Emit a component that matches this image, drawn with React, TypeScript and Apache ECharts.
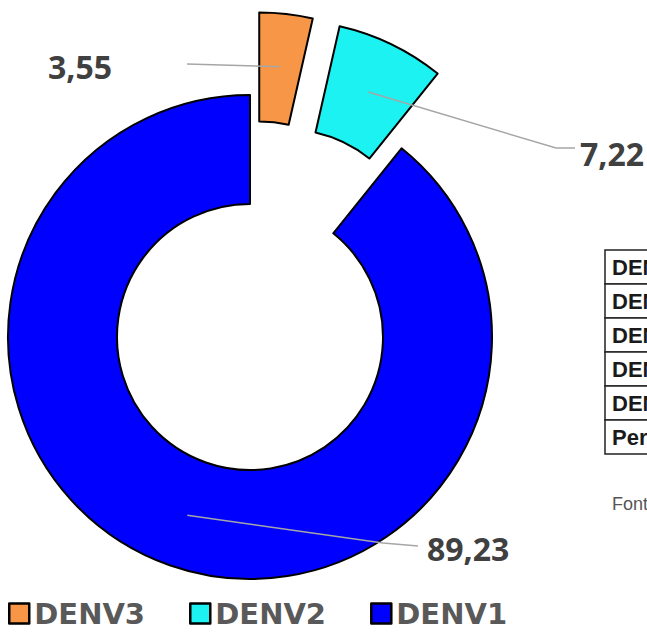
import React, { useEffect, useRef } from 'react';
import * as echarts from 'echarts';

// ---- data ----
const categories = ['DENV3', 'DENV2', 'DENV1'];
const values = [3.55, 7.22, 89.23];
const valueLabels = ['3,55', '7,22', '89,23'];
const exploded = [true, true, false];
const tableRows = ['DENV1', 'DENV2', 'DENV3', 'DENV4', 'DENV1-4', 'Percentual'];
const footnote = 'Fonte: SINAN';

// ---- styles / layout ----
const colors = ['#F79646', '#1CF2F2', '#0000FF'];
const CX = 250;
const CY = 337;
const R_OUT = 242;
const R_IN = 133;
const OFFSET = 83;
const R_LINE = 189;
const labelPlace = [
  { x: 112, y: 66, align: 'right', line: [[75, -2]] },
  { x: 580, y: 153, align: 'left', line: [[-24, -5], [-5, -5]] },
  { x: 427, y: 548, align: 'left', line: [[-44, -5], [-9, -2]] },
];

function App() {
  const ref = useRef<HTMLDivElement>(null);
  useEffect(() => {
    document.body.style.margin = '0';
    const chart = echarts.init(ref.current!, null, { renderer: 'svg' });
    const total = values.reduce((a, b) => a + b, 0);
    let cum = 0;
    const midAngles = values.map((v) => {
      const m = ((cum + v / 2) / total) * Math.PI * 2;
      cum += v;
      return m;
    });
    const linePoints = values.map((_, i) => {
      const th = midAngles[i];
      const d = (exploded[i] ? OFFSET : 0) + R_LINE;
      const start = [CX + d * Math.sin(th), CY - d * Math.cos(th)];
      const L = labelPlace[i];
      return [start, ...L.line.map((p) => [L.x + p[0], L.y + p[1]])];
    });

    const rowH = 34;
    const tableTop = 250;
    const tableLeft = 605;
    const tableChildren: any[] = [];
    tableRows.forEach((t, i) => {
      tableChildren.push({
        type: 'rect',
        shape: { x: tableLeft, y: tableTop + i * rowH, width: 120, height: rowH },
        style: { fill: '#fff', stroke: '#222', lineWidth: 1.5 },
      });
      tableChildren.push({
        type: 'text',
        x: tableLeft + 7,
        y: tableTop + i * rowH + rowH / 2,
        style: {
          text: t,
          font: 'bold 22px "Liberation Sans"',
          fill: '#1a1a1a',
          verticalAlign: 'middle',
        },
      });
    });

    const pieData = categories.map((name, i) => ({
      name,
      value: values[i],
      selected: exploded[i],
      itemStyle: { color: colors[i] },
    }));

    chart.setOption({
      animation: false,
      backgroundColor: '#fff',
      legend: {
        data: categories,
        left: 3,
        top: 594,
        icon: 'rect',
        itemWidth: 20,
        itemHeight: 20,
        itemGap: 44,
        selectedMode: false,
        itemStyle: { borderColor: '#000', borderWidth: 2.5 },
        textStyle: {
          fontSize: 29,
          fontWeight: 'bold',
          fontFamily: 'DejaVu Sans',
          color: '#595959',
        },
      },
      graphic: [
        ...tableChildren,
        {
          type: 'text',
          x: tableLeft + 7,
          y: 504,
          style: {
            text: footnote,
            font: '18px "Liberation Sans"',
            fill: '#555',
            verticalAlign: 'middle',
          },
        },
      ],
      series: [
        {
          type: 'pie',
          z: 2,
          center: [CX, CY],
          radius: [R_IN, R_OUT],
          startAngle: 90,
          clockwise: true,
          selectedMode: 'multiple',
          selectedOffset: OFFSET,
          silent: true,
          itemStyle: { borderColor: '#000', borderWidth: 2 },
          label: { show: false },
          labelLine: { show: false },
          data: pieData,
        },
        {
          // label layer: same slices, invisible, carries the value labels and leader lines
          type: 'pie',
          z: 6,
          center: [CX, CY],
          radius: [R_IN, R_OUT],
          startAngle: 90,
          clockwise: true,
          selectedMode: false,
          silent: true,
          itemStyle: { color: 'rgba(0,0,0,0)', borderWidth: 0 },
          label: {
            show: true,
            position: 'outside',
            formatter: (p: any) => valueLabels[p.dataIndex],
            fontFamily: 'Open Sans',
            fontWeight: 'bold',
            fontSize: 32,
            color: '#404040',
          },
          labelLine: {
            show: true,
            length: 10,
            length2: 10,
            smooth: false,
            lineStyle: { color: '#A6A6A6', width: 1.5 },
          },
          labelLayout: (p: any) => {
            const i = p.dataIndex;
            const L = labelPlace[i];
            return {
              x: L.x,
              y: L.y,
              align: L.align,
              verticalAlign: 'middle',
              labelLinePoints: linePoints[i],
            };
          },
          data: categories.map((name, i) => ({ name, value: values[i] })),
        },
      ],
    });
    return () => chart.dispose();
  }, []);
  return <div ref={ref} style={{ width: 647, height: 635 }} />;
}

export default App;
